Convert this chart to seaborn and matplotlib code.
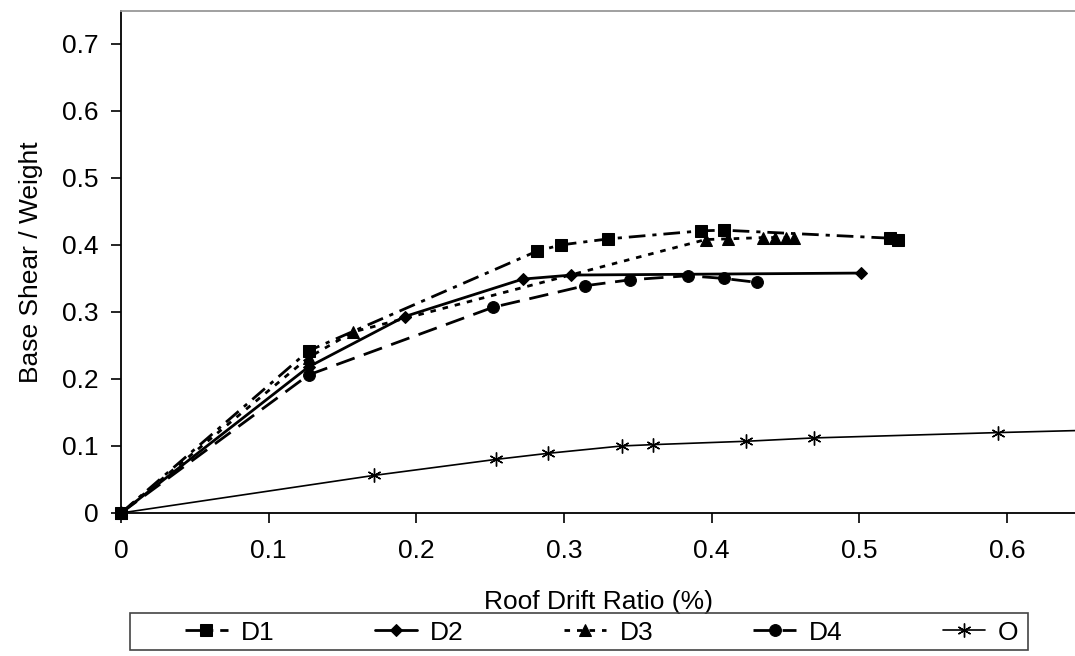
import matplotlib
matplotlib.use("Agg")
import matplotlib.pyplot as plt
import seaborn as sns
import pandas as pd
from matplotlib.ticker import FuncFormatter
from matplotlib.patches import Rectangle

# ---- data ----
d1_x = [0.0, 0.127, 0.282, 0.298, 0.330, 0.393, 0.408, 0.521, 0.526]
d1_y = [0.0, 0.242, 0.391, 0.400, 0.409, 0.421, 0.422, 0.410, 0.408]

d2_x = [0.0, 0.127, 0.192, 0.272, 0.305, 0.501]
d2_y = [0.0, 0.218, 0.293, 0.349, 0.355, 0.358]

d3_x = [0.0, 0.127, 0.157, 0.396, 0.411, 0.435, 0.443, 0.450, 0.456]
d3_y = [0.0, 0.232, 0.270, 0.408, 0.409, 0.411, 0.411, 0.411, 0.410]

d4_x = [0.0, 0.127, 0.252, 0.314, 0.345, 0.384, 0.408, 0.431]
d4_y = [0.0, 0.206, 0.307, 0.339, 0.348, 0.354, 0.350, 0.344]

o_x = [0.0, 0.171, 0.254, 0.289, 0.339, 0.360, 0.423, 0.469, 0.594, 0.700]
o_y = [0.0, 0.056, 0.080, 0.089, 0.100, 0.102, 0.107, 0.112, 0.120, 0.126]

labels = ["D1", "D2", "D3", "D4", "O"]
x_ticks = [0, 0.1, 0.2, 0.3, 0.4, 0.5, 0.6]
y_ticks = [0, 0.1, 0.2, 0.3, 0.4, 0.5, 0.6, 0.7]

sns.set_style("white")
plt.rcParams["font.family"] = ["Liberation Sans", "DejaVu Sans"]
plt.rcParams["text.color"] = "black"
plt.rcParams["axes.labelcolor"] = "black"
plt.rcParams["xtick.color"] = "black"
plt.rcParams["ytick.color"] = "black"

FS = 19
W, H = 1075, 656

fig = plt.figure(figsize=(10.75, 6.56), dpi=100)
ax = fig.add_axes([121 / W, 1 - 513 / H, 1 - 121 / W, (513 - 11) / H])

styles = [
    dict(marker="s", markersize=8.5, linewidth=2.0, dashes=(6, 2.5, 1.5, 2.5)),
    dict(marker="D", markersize=6, linewidth=2.0, linestyle="-"),
    dict(marker="^", markersize=8, linewidth=2.0, dashes=(2, 2.5)),
    dict(marker="o", markersize=8.5, linewidth=2.0, dashes=(7, 3.5)),
    dict(marker=(6, 2, 0), markersize=10, linewidth=1.2, linestyle="-", markeredgewidth=1.0),
]
series = [(d1_x, d1_y), (d2_x, d2_y), (d3_x, d3_y), (d4_x, d4_y), (o_x, o_y)]

for (xs, ys), lab, st in zip(series, labels, styles):
    df = pd.DataFrame({"x": xs, "y": ys})
    sns.lineplot(data=df, x="x", y="y", ax=ax, sort=False, estimator=None,
                 color="black", label=lab, markeredgecolor="black",
                 markerfacecolor="black", clip_on=(lab == "O"), **st)

ax.set_xlim(0, 0.646)
ax.set_ylim(0, 0.749)
ax.set_xticks(x_ticks)
ax.set_yticks(y_ticks)
fmt = FuncFormatter(lambda v, p: "0" if abs(v) < 1e-9 else ("%g" % v))
ax.xaxis.set_major_formatter(fmt)
ax.yaxis.set_major_formatter(fmt)
ax.tick_params(axis="both", direction="out", length=7, width=1.2, color="black",
               labelsize=FS, bottom=True, left=True, labelcolor="black")
ax.tick_params(axis="x", pad=12)
ax.tick_params(axis="y", pad=9)

for s in ["left", "bottom"]:
    ax.spines[s].set_color("black")
    ax.spines[s].set_linewidth(1.3)
ax.spines["top"].set_color("#999999")
ax.spines["top"].set_linewidth(1.3)
ax.spines["right"].set_visible(False)

ax.set_xlabel("Roof Drift Ratio (%)", fontsize=FS, labelpad=19, color="black")
ax.set_ylabel("Base Shear / Weight", fontsize=FS, labelpad=14, color="black")

ax.get_legend().remove()
handles, labs = ax.get_legend_handles_labels()

# legend frame
fig.add_artist(Rectangle((130 / W, 1 - 650 / H), (1028 - 130) / W, 37 / H,
                         transform=fig.transFigure, fill=False,
                         edgecolor="#444444", linewidth=1.2))
leg = fig.legend(handles, labs, loc="lower left", ncol=5, mode="expand",
                 bbox_to_anchor=(180 / W, 1 - 650 / H, (1024 - 180) / W, 37 / H),
                 frameon=False, fontsize=FS, handlelength=1.6,
                 handletextpad=0.5, borderaxespad=0, borderpad=0.2)
for t in leg.get_texts():
    t.set_color("black")

fig.savefig("out.png", dpi=100)
